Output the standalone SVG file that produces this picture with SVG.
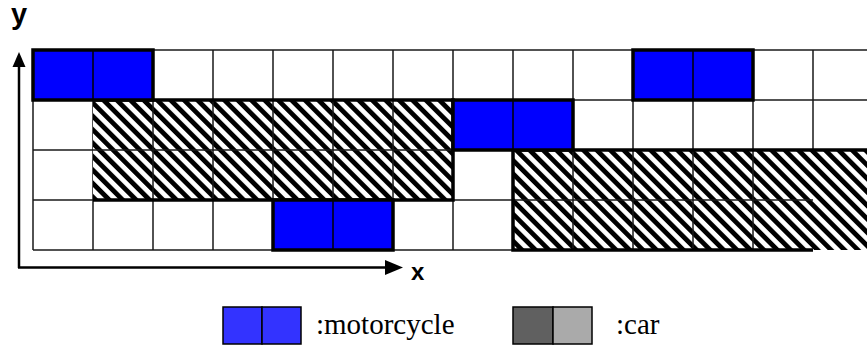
<svg xmlns="http://www.w3.org/2000/svg" width="867" height="346" viewBox="0 0 867 346">
  <defs>
    <!-- diagonal black/white stripes used for cars -->
    <pattern id="stripes" width="9.5" height="9.5" patternUnits="userSpaceOnUse" patternTransform="rotate(-45)">
      <rect width="9.5" height="9.5" fill="#fff"/>
      <rect width="4.8" height="9.5" fill="#000"/>
    </pattern>
  </defs>
  <style>
    .thin { stroke: #1a1a1a; stroke-width: 1.5; fill: none; }
    .thick { stroke: #000; stroke-width: 3.5; fill: none; }
    .moto { fill: #0000ff; stroke: #000; stroke-width: 3.5; }
    .div { stroke: #000; stroke-width: 1.5; }
    .axis { stroke: #000; stroke-width: 2.5; fill: none; }
    .lgbox { stroke: #000; stroke-width: 1.5; }
  </style>

  <rect width="867" height="346" fill="#fff"/>

  <!-- lane grid -->
  <g id="grid">
    <path class="thin" d="M33,50 H867 M33,100 H867 M33,150 H867 M33,200 H513 M33,250 H513"/>
    <path class="thin" d="M33,50 V250 M93,50 V250 M153,50 V250 M213,50 V250 M273,50 V250 M333,50 V250 M393,50 V250 M453,50 V250 M513,50 V250 M573,50 V150 M633,50 V150 M693,50 V150 M753,50 V150 M813,50 V150"/>
  </g>

  <!-- cars -->
  <g id="car-1">
    <rect x="93" y="100" width="360" height="100" fill="url(#stripes)"/>
    <path class="thin" d="M93,150 H453 M153,100 V200 M213,100 V200 M273,100 V200 M333,100 V200 M393,100 V200"/>
    <path class="thick" d="M93,100 H453 V200 H93"/>
  </g>
  <g id="car-2">
    <rect x="513" y="150" width="354" height="100" fill="url(#stripes)"/>
    <path class="thin" d="M513,200 H813 M573,150 V250 M633,150 V250 M693,150 V250 M753,150 V250"/>
    <path class="thick" d="M867,150 H513 V250 H813"/>
  </g>

  <!-- motorcycles -->
  <g id="moto-1">
    <rect class="moto" x="33" y="50" width="120" height="50"/>
    <line class="div" x1="93" y1="50" x2="93" y2="100"/>
  </g>
  <g id="moto-2">
    <rect class="moto" x="633" y="50" width="120" height="50"/>
    <line class="div" x1="693" y1="50" x2="693" y2="100"/>
  </g>
  <g id="moto-3">
    <rect class="moto" x="453" y="100" width="120" height="50"/>
    <line class="div" x1="513" y1="100" x2="513" y2="150"/>
  </g>
  <g id="moto-4">
    <rect class="moto" x="273" y="200" width="120" height="50"/>
    <line class="div" x1="333" y1="200" x2="333" y2="250"/>
  </g>

  <!-- axes -->
  <g id="axes">
    <path class="axis" d="M19,268 V62"/>
    <path class="axis" d="M18,267.5 H390"/>
    <path d="M19,52 L12.5,67 L25.5,67 Z" fill="#000"/>
    <path d="M403,267.5 L385,260 L385,275 Z" fill="#000"/>
    <text x="11" y="24" font-family="'Liberation Sans', Arial, sans-serif" font-weight="bold" font-size="29">y</text>
    <text x="411" y="280" font-family="'Liberation Sans', Arial, sans-serif" font-weight="bold" font-size="24">x</text>
  </g>

  <!-- legend -->
  <g id="legend-motorcycle">
    <rect class="lgbox" x="223" y="307" width="39" height="37" fill="#3333ff"/>
    <rect class="lgbox" x="262" y="307" width="39" height="37" fill="#3333ff"/>
    <text x="316" y="334" font-family="'Liberation Serif', 'Times New Roman', serif" font-size="29">:motorcycle</text>
  </g>
  <g id="legend-car">
    <rect class="lgbox" x="513" y="307" width="40" height="37" fill="#606060"/>
    <rect class="lgbox" x="553" y="307" width="39" height="37" fill="#aaaaaa"/>
    <text x="616" y="334" font-family="'Liberation Serif', 'Times New Roman', serif" font-size="29">:car</text>
  </g>
</svg>
